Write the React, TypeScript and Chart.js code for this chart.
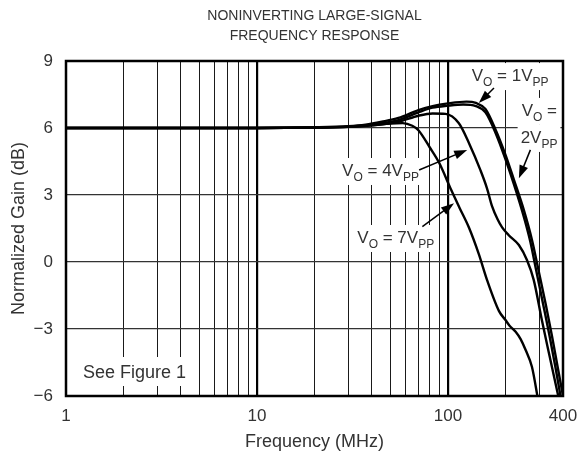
import React, { useEffect, useRef } from "react";
import { Chart, registerables } from "chart.js";

Chart.register(...registerables);

const FONT = '"Liberation Sans", Arial, Helvetica, sans-serif';
const TEXT = "#333333";

const TITLE_LINES = ["NONINVERTING LARGE-SIGNAL", "FREQUENCY RESPONSE"];
const X_TITLE = "Frequency (MHz)";
const Y_TITLE = "Normalized Gain (dB)";

const X_GRID = [1, 2, 3, 4, 5, 6, 7, 8, 9, 10, 20, 30, 40, 50, 60, 70, 80, 90, 100, 200, 300, 400];
const X_LABELS = [1, 10, 100, 400];
const X_MAJOR = [10, 100];
const Y_MIN = -6;
const Y_MAX = 9;
const Y_STEP = 3;

const FREQ_1V = [1, 10, 20, 30, 37, 45, 55, 70, 83, 100, 125, 140, 157, 177, 200, 221, 250, 275, 300, 325, 350, 375, 400];
const GAIN_1V = [6, 6, 6.03, 6.08, 6.15, 6.28, 6.45, 6.8, 6.98, 7.1, 7.18, 7.12, 6.85, 5.95, 4.8, 3.7, 2.3, 1.0, -0.5, -1.9, -3.3, -4.7, -6.0];

const FREQ_2V = [1, 10, 20, 30, 40, 55, 70, 83, 100, 120, 140, 157, 177, 200, 221, 250, 270, 290, 315, 340, 365, 390, 400];
const GAIN_2V = [6, 6, 6.02, 6.06, 6.15, 6.35, 6.7, 6.91, 7.0, 7.05, 6.98, 6.7, 5.8, 4.6, 3.5, 2.0, 0.9, -0.4, -1.9, -3.3, -4.7, -6.1, -6.6];

const FREQ_4V = [1, 10, 20, 30, 40, 55, 70, 83, 97, 114, 129, 148, 160, 170, 182, 192, 208, 235, 259, 281, 310, 340, 380, 400];
const GAIN_4V = [6, 6, 6.02, 6.05, 6.12, 6.28, 6.55, 6.65, 6.63, 6.21, 5.31, 4.1, 3.3, 2.5, 1.9, 1.55, 1.2, 0.76, 0.09, -0.8, -2.6, -4.2, -6.1, -7.0];

const FREQ_7V = [1, 10, 20, 30, 40, 50, 58, 65, 70, 80, 90, 104, 115, 129, 145, 160, 185, 200, 210, 226, 240, 255, 275, 292, 300];
const GAIN_7V = [6, 6, 6.02, 6.05, 6.12, 6.2, 6.22, 6.1, 5.9, 5.15, 4.43, 3.22, 2.42, 1.52, 0.35, -0.8, -2.2, -2.6, -2.85, -3.12, -3.45, -3.94, -4.69, -5.87, -6.5];

// annotation anchors in data units: [MHz, dB]
const NOTE_1V_AT = [133, 8.37];
const NOTE_1V_ARROW = [[174, 7.79], [145, 7.12]];
const NOTE_2V_AT_A = [243, 6.81];
const NOTE_2V_AT_B = [240, 5.6];
const NOTE_2V_ARROW = [[270, 5.02], [235, 3.75]];
const NOTE_4V_AT = [27.9, 4.12];
const NOTE_4V_ARROW = [[70.6, 4.12], [126, 5.02]];
const NOTE_7V_AT = [33.5, 1.12];
const NOTE_7V_ARROW = [[73.4, 1.58], [107.5, 2.63]];
const NOTE_FIG_AT = [1.226, -4.97];
const NOTE_FIG_TEXT = "See Figure 1";

type Part = { t: string; sub?: boolean };

const MAIN_SIZE = 17;
const SUB_SIZE = 12;

function measureParts(ctx: CanvasRenderingContext2D, parts: Part[]) {
  let w = 0;
  for (const p of parts) {
    ctx.font = `${p.sub ? SUB_SIZE : MAIN_SIZE}px ${FONT}`;
    w += ctx.measureText(p.t).width;
  }
  return w;
}

function drawParts(ctx: CanvasRenderingContext2D, x: number, yMid: number, parts: Part[], box = true) {
  const w = measureParts(ctx, parts);
  if (box) {
    ctx.fillStyle = "#ffffff";
    ctx.fillRect(x - 3, yMid - 12, w + 6, 27);
  }
  ctx.fillStyle = TEXT;
  ctx.textAlign = "left";
  ctx.textBaseline = "alphabetic";
  let cx = x;
  const base = yMid + MAIN_SIZE * 0.358;
  for (const p of parts) {
    ctx.font = `${p.sub ? SUB_SIZE : MAIN_SIZE}px ${FONT}`;
    ctx.fillText(p.t, cx, p.sub ? base + 5 : base);
    cx += ctx.measureText(p.t).width;
  }
}

function drawArrow(ctx: CanvasRenderingContext2D, x1: number, y1: number, x2: number, y2: number) {
  const ang = Math.atan2(y2 - y1, x2 - x1);
  const head = 13;
  const half = 4.5;
  ctx.strokeStyle = "#000";
  ctx.fillStyle = "#000";
  ctx.lineWidth = 1.5;
  ctx.beginPath();
  ctx.moveTo(x1, y1);
  ctx.lineTo(x2 - head * Math.cos(ang) * 0.8, y2 - head * Math.sin(ang) * 0.8);
  ctx.stroke();
  ctx.beginPath();
  ctx.moveTo(x2, y2);
  ctx.lineTo(x2 - head * Math.cos(ang) + half * Math.sin(ang), y2 - head * Math.sin(ang) - half * Math.cos(ang));
  ctx.lineTo(x2 - head * Math.cos(ang) - half * Math.sin(ang), y2 - head * Math.sin(ang) + half * Math.cos(ang));
  ctx.closePath();
  ctx.fill();
}

const notesPlugin = {
  id: "notes",
  beforeDatasetsDraw(chart: any) {
    const { ctx, scales } = chart;
    const X = (f: number) => scales.x.getPixelForValue(f);
    const Y = (d: number) => scales.y.getPixelForValue(d);
    ctx.save();
    drawParts(ctx, X(NOTE_1V_AT[0]), Y(NOTE_1V_AT[1]), [
      { t: "V" }, { t: "O", sub: true }, { t: " = 1V" }, { t: "PP", sub: true },
    ]);
    drawParts(ctx, X(NOTE_2V_AT_A[0]), Y(NOTE_2V_AT_A[1]), [
      { t: "V" }, { t: "O", sub: true }, { t: " =" },
    ]);
    drawParts(ctx, X(NOTE_2V_AT_B[0]), Y(NOTE_2V_AT_B[1]), [
      { t: "2V" }, { t: "PP", sub: true },
    ]);
    drawParts(ctx, X(NOTE_4V_AT[0]), Y(NOTE_4V_AT[1]), [
      { t: "V" }, { t: "O", sub: true }, { t: " = 4V" }, { t: "PP", sub: true },
    ]);
    drawParts(ctx, X(NOTE_7V_AT[0]), Y(NOTE_7V_AT[1]), [
      { t: "V" }, { t: "O", sub: true }, { t: " = 7V" }, { t: "PP", sub: true },
    ]);
    // See Figure 1
    const fx = X(NOTE_FIG_AT[0]);
    const fy = Y(NOTE_FIG_AT[1]);
    ctx.font = `18px ${FONT}`;
    const fw = ctx.measureText(NOTE_FIG_TEXT).width;
    ctx.fillStyle = "#fff";
    ctx.fillRect(chart.chartArea.left + 1, fy - 16, fx - chart.chartArea.left + fw + 8, 29);
    ctx.fillStyle = TEXT;
    ctx.textBaseline = "middle";
    ctx.fillText(NOTE_FIG_TEXT, fx, fy);
    ctx.restore();
  },
  afterDatasetsDraw(chart: any) {
    const { ctx, scales, chartArea } = chart;
    const X = (f: number) => scales.x.getPixelForValue(f);
    const Y = (d: number) => scales.y.getPixelForValue(d);
    ctx.save();
    for (const a of [NOTE_1V_ARROW, NOTE_2V_ARROW, NOTE_4V_ARROW, NOTE_7V_ARROW]) {
      drawArrow(ctx, X(a[0][0]), Y(a[0][1]), X(a[1][0]), Y(a[1][1]));
    }
    ctx.strokeStyle = "#000";
    ctx.lineWidth = 2.5;
    ctx.strokeRect(chartArea.left, chartArea.top, chartArea.right - chartArea.left, chartArea.bottom - chartArea.top);
    // title
    ctx.fillStyle = TEXT;
    ctx.font = `14px ${FONT}`;
    ctx.textAlign = "center";
    ctx.textBaseline = "middle";
    const cx = (chartArea.left + chartArea.right) / 2;
    ctx.fillText(TITLE_LINES[0], cx, 16);
    ctx.fillText(TITLE_LINES[1], cx, 36);
    ctx.restore();
  },
};

function series(fs: number[], gs: number[]) {
  return fs.map((f, i) => ({ x: f, y: gs[i] }));
}

export default function App() {
  const ref = useRef<HTMLCanvasElement | null>(null);
  useEffect(() => {
    if (!ref.current) return;
    const line = (data: any) => ({
      data,
      borderColor: "#000",
      borderWidth: 2.4,
      pointRadius: 0,
      fill: false,
      cubicInterpolationMode: "monotone" as const,
    });
    const chart = new Chart(ref.current, {
      type: "line",
      data: {
        datasets: [
          line(series(FREQ_1V, GAIN_1V)),
          line(series(FREQ_2V, GAIN_2V)),
          line(series(FREQ_4V, GAIN_4V)),
          line(series(FREQ_7V, GAIN_7V)),
        ],
      },
      options: {
        responsive: false,
        animation: false,
        devicePixelRatio: 1,
        layout: { padding: { top: 61, right: 0, left: 0, bottom: 0 } },
        plugins: { legend: { display: false }, tooltip: { enabled: false }, title: { display: false } },
        scales: {
          x: {
            type: "logarithmic",
            min: 1,
            max: 400,
            afterBuildTicks: (s: any) => {
              s.ticks = X_GRID.map((v) => ({ value: v }));
            },
            afterFit: (s: any) => {
              s.height = 64;
              s.paddingRight = 15;
            },
            ticks: {
              autoSkip: false,
              maxRotation: 0,
              padding: 10,
              color: TEXT,
              font: { family: FONT, size: 17 },
              callback: (v: any) => (X_LABELS.includes(Number(v)) ? String(v) : ""),
            },
            grid: {
              drawTicks: false,
              color: (c: any) => (X_MAJOR.includes(c.tick?.value) ? "#000" : "#1a1a1a"),
              lineWidth: (c: any) => (X_MAJOR.includes(c.tick?.value) ? 2.2 : 1),
            },
            border: { display: false },
            title: {
              display: true,
              text: X_TITLE,
              color: TEXT,
              font: { family: FONT, size: 18 },
              padding: { top: 0, bottom: 7 },
            },
          },
          y: {
            min: Y_MIN,
            max: Y_MAX,
            afterFit: (s: any) => {
              s.width = 66;
            },
            ticks: {
              stepSize: Y_STEP,
              padding: 13,
              color: TEXT,
              font: { family: FONT, size: 17 },
              callback: (v: any) => (Number(v) < 0 ? "\u2212" + Math.abs(Number(v)) : String(v)),
            },
            grid: { drawTicks: false, color: "#333", lineWidth: 1.2 },
            border: { display: false },
            title: {
              display: true,
              text: Y_TITLE,
              color: TEXT,
              font: { family: FONT, size: 18 },
              padding: { top: 8, bottom: 0 },
            },
          },
        },
      },
      plugins: [notesPlugin],
    });
    return () => chart.destroy();
  }, []);
  return (
    <div style={{ position: "absolute", left: 0, top: 0, width: 578, height: 460, background: "#fff" }}>
      <canvas ref={ref} width={578} height={460} />
    </div>
  );
}
